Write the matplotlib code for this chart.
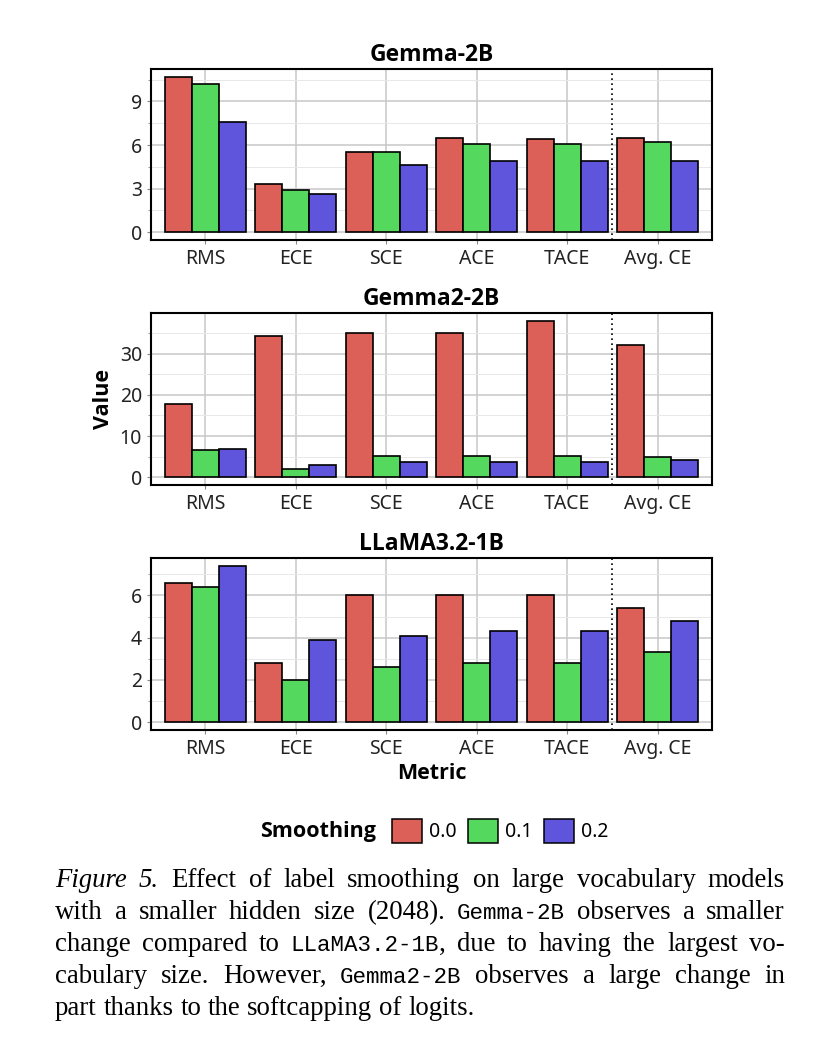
import numpy as np
import matplotlib.pyplot as plt
from matplotlib.patches import Patch
from matplotlib.ticker import MultipleLocator

plt.rcParams['font.family'] = ['Noto Sans', 'DejaVu Sans']

W, H = 818, 1056

metrics = ["RMS", "ECE", "SCE", "ACE", "TACE", "Avg. CE"]
smoothing = ["0.0", "0.1", "0.2"]
colors = ["#DC5F58", "#55D85E", "#5E55DC"]

# values per smoothing level (0.0, 0.1, 0.2)
gemma_2b = [
    [10.7, 3.3, 5.5, 6.5, 6.4, 6.5],
    [10.2, 2.9, 5.5, 6.1, 6.1, 6.2],
    [7.6, 2.6, 4.6, 4.9, 4.9, 4.9],
]
gemma2_2b = [
    [17.8, 34.2, 35.1, 35.1, 38.0, 32.1],
    [6.5, 2.0, 5.1, 5.1, 5.1, 4.8],
    [6.85, 2.85, 3.6, 3.65, 3.65, 4.1],
]
llama32_1b = [
    [6.6, 2.8, 6.0, 6.0, 6.0, 5.4],
    [6.4, 2.0, 2.6, 2.8, 2.8, 3.3],
    [7.4, 3.9, 4.1, 4.3, 4.3, 4.8],
]

panels = [
    ("Gemma-2B", gemma_2b, 3, 69, 240),
    ("Gemma2-2B", gemma2_2b, 10, 313, 485),
    ("LLaMA3.2-1B", llama32_1b, 2, 558, 730),
]

bold = dict(family='Open Sans', fontweight='bold', fontsize=15.5)

fig = plt.figure(figsize=(W / 100, H / 100), dpi=100)

x = np.arange(len(metrics))
w = 0.3
axes = []
for title, data, step, top, bot in panels:
    ax = fig.add_axes([151 / W, 1 - bot / H, 561 / W, (bot - top) / H])
    axes.append(ax)
    for i in range(3):
        ax.bar(x + (i - 1) * w, data[i], width=w, color=colors[i],
               edgecolor='black', linewidth=1.2, zorder=3)
    ymax = max(max(d) for d in data)
    ax.set_xlim(-0.6, 5.6)
    ax.set_ylim(-0.05 * ymax, 1.05 * ymax)
    ax.set_xticks(x)
    ax.set_xticklabels(metrics)
    ax.yaxis.set_major_locator(MultipleLocator(step))
    ax.yaxis.set_minor_locator(MultipleLocator(step / 2))
    ax.grid(which='major', color='#c8c8c8', lw=1.1, zorder=0)
    ax.grid(which='minor', axis='y', color='#e8e8e8', lw=0.7, zorder=0)
    # separator before the average column
    ax.axvline(4.5, color='black', ls=(0, (1, 2)), lw=1.2, zorder=4)
    for s in ax.spines.values():
        s.set_linewidth(1.5)
    ax.tick_params(which='both', color='#888888', length=3,
                   labelsize=14, labelcolor='#222222')
    ax.tick_params(which='minor', length=2)
    ax.set_title(title, pad=6, family='Open Sans', fontweight='bold', fontsize=16.5)

axes[1].set_ylabel("Value", labelpad=4, **bold)
axes[2].set_xlabel("Metric", labelpad=3, **bold)

# legend
fig.text(318 / W, 1 - 831 / H, "Smoothing", ha='center', va='center', **bold)
handles = [Patch(facecolor=c, edgecolor='black', lw=1.1) for c in colors]
fig.legend(handles, smoothing, loc='center left',
           bbox_to_anchor=(392 / W, 1 - 831 / H), ncol=3, frameon=False,
           fontsize=14, handlelength=1.55, handleheight=1.55,
           handletextpad=0.35, columnspacing=0.6, borderpad=0, borderaxespad=0)

# caption, justified by hand
serif = dict(family='Liberation Serif', size=19.3)
ital = dict(family='Liberation Serif', size=19.3, style='italic')
mono = dict(family='Liberation Mono', size=16.2)
caption = [
    [("Figure 5.", ital), (" Effect of label smoothing on large vocabulary models", serif)],
    [("with a smaller hidden size (2048). ", serif), ("Gemma-2B", mono), (" observes a smaller", serif)],
    [("change compared to ", serif), ("LLaMA3.2-1B", mono), (", due to having the largest vo-", serif)],
    [("cabulary size. However, ", serif), ("Gemma2-2B", mono), (" observes a large change in", serif)],
    [("part thanks to the softcapping of logits.", serif)],
]


def words_of(line):
    words = [[]]
    for text, st in line:
        parts = text.split(' ')
        for k, p in enumerate(parts):
            if k > 0:
                words.append([])
            if p:
                words[-1].append((p, st))
    return [wd for wd in words if wd]


r = fig.canvas.get_renderer()


def seg_width(t, st):
    tt = fig.text(0, 0, t, **st)
    wd = tt.get_window_extent(r).width
    tt.remove()
    return wd


left, right = 55, 785
space = seg_width("a b", serif) - seg_width("ab", serif)
for n, line in enumerate(caption):
    base = 887 + 32 * n
    words = words_of(line)
    widths = [[seg_width(t, st) for t, st in wd] for wd in words]
    total = sum(sum(ws) for ws in widths)
    if n < len(caption) - 1:
        gap = (right - left - total) / (len(words) - 1)
    else:
        gap = space
    xp = left
    for wd, ws in zip(words, widths):
        for (t, st), sw in zip(wd, ws):
            fig.text(xp / W, 1 - base / H, t, va='baseline', ha='left', **st)
            xp += sw
        xp += gap

plt.savefig("out.png", dpi=100)
